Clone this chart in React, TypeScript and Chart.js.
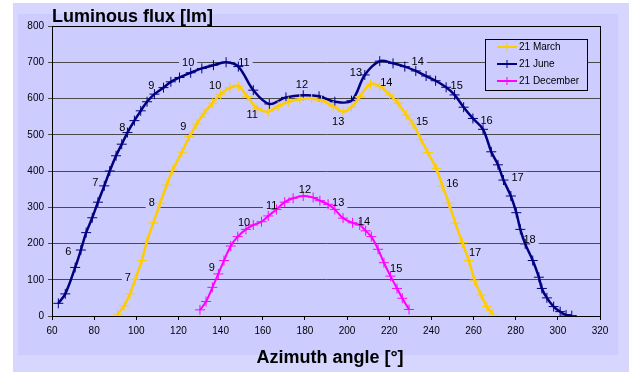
import React, { useEffect, useRef } from "react";
import { Chart, registerables } from "chart.js";

Chart.register(...registerables);

// ---- data ----
const xTicks = [60, 80, 100, 120, 140, 160, 180, 200, 220, 240, 260, 280, 300, 320];
const yTicks = [0, 100, 200, 300, 400, 500, 600, 700, 800];

const seriesNames = ["21 March", "21 June", "21 December"];

const marchAz = [91.1, 94.2, 97, 99.5, 102.6, 105, 108.1, 111.3, 114.4, 117.3, 121.6, 125.2, 128.7, 132.1, 136.1, 140, 144.4, 148.4, 152.7, 157.4, 162.6, 167.3, 172.1, 177.6, 183.2, 187.9, 193.4, 198.1, 202.1, 206, 211.1, 215.5, 220.2, 224.2, 228.1, 231.3, 235.1, 238.3, 242.3, 245.2, 248.3, 251.4, 254.7, 257.8, 260.5, 263.6, 266.3, 268.9];
const marchFlux = [5, 28, 61, 101, 153, 205, 257, 311, 361, 403, 452, 495, 530, 559, 587, 612, 630, 634, 605, 573, 564, 579, 591, 598, 600, 594, 579, 564, 576, 605, 640, 634, 610, 587, 554, 530, 487, 451, 407, 359, 311, 256, 202, 153, 99, 58, 26, 6];

const juneAz = [63, 66.3, 71, 73.7, 76.2, 79.1, 81.8, 84.8, 87.4, 90.4, 93.1, 95.8, 99.1, 102.1, 105.1, 108.6, 112.9, 116.4, 120.5, 125.8, 131.1, 136.6, 142.6, 148.4, 155.5, 163.1, 171, 179.2, 186.7, 194.2, 202.1, 208.4, 215.5, 221.8, 227.4, 232.6, 237.5, 242, 247, 251, 255.3, 259.7, 264.5, 268.4, 271.6, 274.2, 277.7, 280.3, 282.2, 284.5, 288.1, 291, 292.4, 294.8, 298, 301.1, 303.9, 306.6];
const juneFlux = [35, 61, 134, 182, 230, 271, 314, 359, 400, 442, 474, 506, 539, 566, 591, 612, 630, 646, 658, 671, 683, 692, 700, 688, 623, 585, 603, 609, 606, 591, 594, 665, 703, 697, 688, 676, 662, 649, 631, 610, 576, 545, 515, 453, 417, 375, 331, 285, 239, 199, 153, 107, 76, 50, 26, 12, 3, 1];

const decAz = [130.2, 133.1, 136.1, 138.9, 141.6, 144.8, 148.1, 152, 155.5, 159.4, 162.6, 166.5, 170.4, 174.4, 179.2, 183.9, 187.1, 191, 194.2, 198.1, 202.6, 206, 208.8, 211.5, 214.7, 217.5, 220.6, 223.7, 226.2, 229.4];
const decFlux = [17, 40, 79, 116, 153, 193, 219, 239, 251, 260, 276, 294, 314, 325, 331, 327, 318, 308, 294, 270, 257, 251, 235, 219, 184, 147, 110, 76, 49, 18];

// hour labels (hour, azimuth, flux of label centre)
const marchHours = [7, 8, 9, 10, 11, 13, 14, 15, 16, 17];
const marchHourAz = [96, 107.3, 122.3, 137.4, 155, 195.8, 218.6, 235.6, 249.9, 260.7];
const marchHourFlux = [104, 311, 522, 634, 554, 536, 644, 536, 364, 175];

const juneHours = [6, 7, 8, 9, 10, 11, 12, 13, 14, 15, 16, 17, 18];
const juneHourAz = [67.7, 80.5, 93.3, 107.1, 124.6, 151.1, 178.6, 204.2, 233.5, 252, 266.2, 280.9, 286.6];
const juneHourFlux = [177, 367, 519, 634, 698, 698, 636, 670, 701, 634, 538, 381, 210];

const decHours = [9, 10, 11, 12, 13, 14, 15];
const decHourAz = [135.8, 151.1, 164.2, 180, 195.8, 208, 223.3];
const decHourFlux = [133, 256, 303, 348, 311, 260, 129];

const xTitle = "Azimuth angle [°]";
const yTitle = "Luminous flux [lm]";

// ---- styles ----
const colors = ["#FFCC00", "#000080", "#FF00FF"];
const FONT = "'Liberation Sans', Arial, sans-serif";
const PLOT_BG = "#CCCCFF";

const toPts = (xs: number[], ys: number[]) => xs.map((x, i) => ({ x, y: ys[i] }));

const hourSets = [
  { h: marchHours, x: marchHourAz, y: marchHourFlux },
  { h: juneHours, x: juneHourAz, y: juneHourFlux },
  { h: decHours, x: decHourAz, y: decHourFlux },
];

const decorPlugin = {
  id: "decor",
  beforeDraw(chart: any) {
    const ctx = chart.ctx;
    ctx.save();
    ctx.fillStyle = "#FFFFFF";
    ctx.fillRect(0, 0, chart.width, chart.height);
    ctx.fillStyle = "#D6D6FE";
    ctx.fillRect(13, 3, chart.width - 13, chart.height - 3);
    ctx.fillStyle = PLOT_BG;
    ctx.fillRect(18, 14, 600, 341);
    ctx.restore();
  },
  beforeDatasetsDraw(chart: any) {
    const ctx = chart.ctx;
    const xs = chart.scales.x;
    const ys = chart.scales.y;
    ctx.save();
    ctx.font = `11px ${FONT}`;
    ctx.fillStyle = PLOT_BG;
    hourSets.forEach((s) => {
      s.h.forEach((h, i) => {
        const px = xs.getPixelForValue(s.x[i]);
        const py = ys.getPixelForValue(s.y[i]);
        const w = ctx.measureText(String(h)).width;
        ctx.fillRect(px - w / 2 - 3, py - 6, w + 6, 12);
      });
    });
    // plot border
    const a = chart.chartArea;
    ctx.strokeStyle = "#000000";
    ctx.lineWidth = 1;
    ctx.strokeRect(Math.round(a.left) + 0.5, Math.round(a.top) + 0.5, Math.round(a.right - a.left), Math.round(a.bottom - a.top));
    ctx.restore();
  },
  afterDatasetsDraw(chart: any) {
    const ctx = chart.ctx;
    const xs = chart.scales.x;
    const ys = chart.scales.y;
    ctx.save();
    ctx.font = `11px ${FONT}`;
    ctx.fillStyle = "#000000";
    ctx.textAlign = "center";
    ctx.textBaseline = "middle";
    hourSets.forEach((s) => {
      s.h.forEach((h, i) => {
        ctx.fillText(String(h), xs.getPixelForValue(s.x[i]), ys.getPixelForValue(s.y[i]));
      });
    });

    // titles
    ctx.font = `bold 18px ${FONT}`;
    ctx.textBaseline = "alphabetic";
    ctx.textAlign = "left";
    ctx.fillText(yTitle, 52, 21.5);
    ctx.textAlign = "center";
    ctx.fillText(xTitle, 330, 362.5);

    // legend
    const lx = 485, ly = 39, lw = 102, lh = 51;
    ctx.fillStyle = PLOT_BG;
    ctx.fillRect(lx, ly, lw, lh);
    ctx.strokeStyle = "#000000";
    ctx.lineWidth = 1;
    ctx.strokeRect(lx + 0.5, ly + 0.5, lw, lh);
    ctx.font = `10px ${FONT}`;
    ctx.textAlign = "left";
    ctx.textBaseline = "middle";
    seriesNames.forEach((name, i) => {
      const y = 47 + i * 17;
      ctx.strokeStyle = colors[i];
      ctx.lineWidth = 2;
      ctx.beginPath();
      ctx.moveTo(497, y);
      ctx.lineTo(517, y);
      ctx.stroke();
      ctx.lineWidth = 1;
      ctx.beginPath();
      ctx.moveTo(507, y - 4);
      ctx.lineTo(507, y + 4);
      ctx.stroke();
      ctx.fillStyle = "#000000";
      ctx.fillText(name, 519, y);
    });
    ctx.restore();
  },
};

export default function App() {
  const ref = useRef<HTMLCanvasElement>(null);
  useEffect(() => {
    const series = [toPts(marchAz, marchFlux), toPts(juneAz, juneFlux), toPts(decAz, decFlux)];
    const chart = new Chart(ref.current as HTMLCanvasElement, {
      type: "scatter",
      data: {
        datasets: series.map((d, i) => ({
          label: seriesNames[i],
          data: d,
          showLine: true,
          borderColor: colors[i],
          backgroundColor: colors[i],
          borderWidth: i === 2 ? 2 : 2.5,
          tension: 0.35,
          pointStyle: "cross",
          pointRadius: 5,
          pointBorderWidth: 1,
          pointBorderColor: colors[i],
          pointHoverRadius: 5,
        })),
      },
      plugins: [decorPlugin],
      options: {
        responsive: false,
        animation: false,
        events: [],
        layout: { padding: { left: 0, top: 26, right: 29, bottom: 0 } },
        plugins: { legend: { display: false }, tooltip: { enabled: false }, title: { display: false } },
        scales: {
          x: {
            type: "linear",
            min: 60,
            max: 320,
            afterBuildTicks: (s: any) => { s.ticks = xTicks.map((v) => ({ value: v })); },
            afterFit: (s: any) => { s.height = 56; },
            ticks: { color: "#000", font: { family: FONT, size: 10 }, padding: 5, maxRotation: 0, autoSkip: false },
            grid: { display: true, drawOnChartArea: false, color: "#000", tickLength: 4 },
            border: { color: "#000", width: 1 },
          },
          y: {
            type: "linear",
            min: 0,
            max: 800,
            afterBuildTicks: (s: any) => { s.ticks = yTicks.map((v) => ({ value: v })); },
            afterFit: (s: any) => { s.width = 52; },
            ticks: { color: "#000", font: { family: FONT, size: 10 }, padding: 4 },
            grid: { color: "#4a4a4a", tickLength: 4, lineWidth: 1 },
            border: { color: "#000", width: 1 },
          },
        },
      },
    } as any);
    return () => chart.destroy();
  }, []);
  return (
    <div style={{ position: "fixed", left: 0, top: 0, width: 629, height: 372 }}>
      <canvas ref={ref} width={629} height={372} style={{ width: 629, height: 372, display: "block" }} />
    </div>
  );
}
